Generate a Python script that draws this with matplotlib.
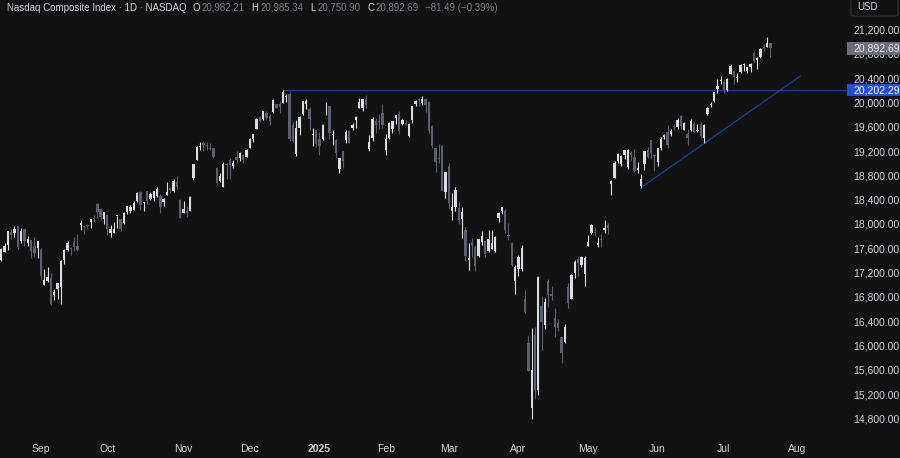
import matplotlib.pyplot as plt
import matplotlib.patches as patches
import numpy as np
import pandas as pd

# trading calendar: Aug 15 2024 .. Jul 22 2025 (NASDAQ holidays removed)
holidays = ['2024-09-02', '2024-11-28', '2024-12-25', '2025-01-01', '2025-01-09',
            '2025-01-20', '2025-02-17', '2025-04-18', '2025-05-26', '2025-06-19',
            '2025-07-04']
dates = pd.bdate_range('2024-08-15', '2025-07-22', freq='C', holidays=holidays)

opens = [
    # Aug
    17415, 17541, 17648, 17870, 17855, 17962, 17719, 17924, 17683, 17735, 17634, 17611,
    # Sep
    17578, 17001, 17061, 17108, 16833, 16930, 16961, 17402, 17580, 17602, 17710, 17640,
    17986, 17971, 17978, 18040, 18094, 18334, 18247, 18077,
    # Oct
    18147, 17852, 17849, 18125, 18074, 18020, 18197, 18219, 18237, 18373, 18521, 18338,
    18539, 18403, 18435, 18453, 18460, 18370, 18481, 18600, 18543, 18689, 18392,
    # Nov
    18180, 18220, 18217, 18764, 19050, 19274, 19325, 19298, 19250, 19242, 18920, 18700,
    18612, 18987, 19049, 18952, 19102, 19080, 19139, 19110,
    # Dec
    19250, 19399, 19569, 19756, 19726, 19819, 19774, 19835, 19969, 19980, 19997, 20084,
    20142, 19627, 19147, 19573, 19808, 19977, 19891, 19462, 19540,
    # Jan
    19403, 19395, 19851, 19938, 19469, 19376, 18903, 19202, 19374, 19538, 19579, 19709,
    19906, 19906, 20063, 19234, 19418, 19693, 19686, 19832,
    # Feb
    19215, 19407, 19561, 19747, 19802, 19653, 19645, 19446, 19706, 19966, 20053, 19997,
    20053, 20014, 19606, 19247, 19086, 19278, 18527,
    # Mar
    18960, 18211, 18285, 18265, 18076, 17909, 17403, 17701, 17625, 17479, 17707, 17717,
    17558, 17592, 17562, 18097, 18206, 18215, 17824, 17695, 17064,
    # Apr
    17263, 17262, 16770, 16040, 14980, 16180, 15262, 16650, 16341, 17060, 16845, 16460,
    16371, 16148, 16052, 16957, 16771, 17188, 17422, 17318, 17172,
    # May
    17637, 17857, 17874, 17651, 17744, 17909, 17977, 18650, 18760, 19038, 18994, 19137,
    18930, 19169, 19104, 18881, 18620, 18990, 19214, 19380, 19136,
    # Jun
    19020, 19255, 19430, 19510, 19480, 19600, 19600, 19780, 19550, 19480, 19540, 19650,
    19530, 19640, 19410, 19815, 19960, 20030, 20220, 20350,
    # Jul
    20340, 20200, 20470, 20510, 20410, 20500, 20620, 20520, 20580, 20810, 20700, 20750,
    20920, 20920, 20982.21,
]
highs = [
    17602, 17683, 17877, 17918, 17967, 17968, 17929, 17925, 17799, 17740, 17790, 17715,
    17597, 17258, 17296, 17200, 16925, 17026, 17410, 17589, 17712, 17617, 17793, 17838,
    18065, 17986, 18002, 18089, 18142, 18342, 18255, 18192,
    18163, 17979, 18027, 18137, 18086, 18197, 18298, 18318, 18385, 18532, 18547, 18369,
    18547, 18519, 18543, 18605, 18487, 18430, 18691, 18612, 18734, 18785, 18417,
    18384, 18288, 18456, 18991, 19288, 19346, 19366, 19354, 19337, 19258, 18935, 18838,
    19015, 18996, 19081, 19049, 19193, 19181, 19152, 19232,
    19410, 19485, 19744, 19782, 19863, 19855, 19808, 20055, 19981, 20017, 20204, 20131,
    20168, 19671, 19711, 19779, 20031, 20057, 19928, 19571, 19541,
    19517, 19638, 20007, 19939, 19546, 19391, 19093, 19209, 19548, 19553, 19657, 19770,
    20068, 20054, 20118, 19472, 19757, 19741, 19803, 19969,
    19476, 19685, 19696, 19792, 19862, 19732, 19716, 19669, 19948, 20046, 20070, 20110,
    20066, 20017, 19622, 19248, 19312, 19297, 18848,
    19000, 18508, 18603, 18377, 18280, 17955, 17680, 17769, 17661, 17759, 17885, 17721,
    17908, 17899, 17799, 18198, 18282, 18253, 18021, 17705, 17324,
    17487, 17661, 16910, 16180, 16292, 16302, 17151, 16811, 16776, 17100, 16986, 16614,
    16436, 16148, 16358, 17027, 17183, 17403, 17470, 17479, 17470,
    17815, 18000, 17951, 17778, 17829, 18072, 18010, 18719, 19036, 19176, 19130, 19212,
    19240, 19196, 19235, 19021, 18830, 19205, 19259, 19381, 19159,
    19250, 19433, 19478, 19632, 19560, 19650, 19736, 19800, 19680, 19560, 19730, 19700,
    19650, 19670, 19640, 19930, 20000, 20170, 20390, 20440,
    20390, 20395, 20624, 20530, 20490, 20630, 20655, 20590, 20645, 20840, 20750, 20890,
    20960, 21077, 20985.34,
]
lows = [
    17394, 17541, 17576, 17756, 17782, 17594, 17690, 17645, 17635, 17444, 17460, 17445,
    17086, 16991, 17047, 16668, 16753, 16763, 16688, 17335, 17563, 17494, 17555, 17548,
    17897, 17838, 17912, 17938, 18031, 18099, 18071, 18008,
    17812, 17792, 17847, 17933, 17892, 17999, 18169, 18187, 18237, 18369, 18236, 18218,
    18333, 18396, 18376, 18438, 18181, 18301, 18470, 18508, 18522, 18568, 18092,
    18174, 18117, 18217, 18728, 19050, 19213, 19193, 19211, 19211, 19090, 18646, 18684,
    18608, 18732, 18745, 18928, 18998, 19041, 19002, 19107,
    19244, 19356, 19564, 19685, 19713, 19706, 19629, 19832, 19902, 19832, 19988, 20013,
    19358, 19351, 19114, 19466, 19796, 19887, 19540, 19283, 19274,
    19134, 19379, 19785, 19405, 19304, 19084, 18831, 18924, 19333, 19335, 19552, 19587,
    19906, 19867, 19914, 19204, 19363, 19505, 19560, 19581,
    19141, 19397, 19501, 19646, 19485, 19627, 19623, 19434, 19668, 19945, 19944, 19957,
    19848, 19495, 19245, 18851, 18996, 18541, 18431,
    18253, 18070, 18206, 18004, 17768, 17389, 17238, 17457, 17233, 17458, 17658, 17464,
    17545, 17591, 17533, 18041, 18172, 17853, 17734, 17306, 16854,
    17152, 17234, 16528, 15575, 14784, 15126, 15194, 15922, 16279, 16640, 16751, 16144,
    16232, 15709, 16044, 16614, 16768, 17113, 17141, 17285, 16974,
    17636, 17836, 17796, 17627, 17621, 17850, 17832, 18480, 18752, 19001, 18956, 19071,
    18900, 19042, 18856, 18843, 18600, 18883, 19086, 19070, 18880,
    18960, 19220, 19392, 19250, 19440, 19550, 19570, 19570, 19540, 19300, 19530, 19500,
    19510, 19420, 19325, 19790, 19920, 20010, 20150, 20300,
    20150, 20180, 20460, 20300, 20340, 20480, 20520, 20480, 20500, 20650, 20550, 20730,
    20850, 20910, 20750.90,
]
closes = [
    17594.50, 17631.72, 17876.77, 17816.94, 17918.99, 17619.35, 17877.79, 17725.77,
    17754.82, 17556.03, 17516.43, 17713.62,
    17136.30, 17084.30, 17127.66, 16690.83, 16884.60, 17025.88, 17395.53, 17569.68,
    17683.98, 17592.13, 17628.06, 17573.30, 18013.98, 17948.32, 17974.27, 18074.52,
    18082.21, 18190.29, 18119.59, 18189.17,
    17910.36, 17925.12, 17918.48, 18137.85, 17923.90, 18182.92, 18291.62, 18282.05,
    18342.94, 18502.69, 18315.59, 18367.08, 18373.61, 18489.55, 18540.01, 18573.13,
    18276.65, 18415.49, 18518.61, 18567.19, 18712.75, 18607.93, 18095.15,
    18239.92, 18179.98, 18439.17, 18983.47, 19269.46, 19286.78, 19298.76, 19281.40,
    19230.74, 19107.65, 18680.12, 18791.81, 18987.47, 18966.14, 18972.42, 19003.65,
    19054.84, 19174.30, 19060.48, 19218.17,
    19403.95, 19480.91, 19735.12, 19700.26, 19859.77, 19736.69, 19687.24, 20034.89,
    19902.84, 19926.72, 20173.89, 20109.06, 19392.69, 19372.77, 19572.60, 19764.89,
    20031.13, 20020.36, 19722.03, 19486.79, 19310.79,
    19280.79, 19621.68, 19864.98, 19489.68, 19478.88, 19161.63, 19088.10, 19044.39,
    19511.23, 19338.29, 19630.20, 19756.78, 20009.34, 20053.68, 19954.30, 19341.83,
    19733.59, 19632.32, 19681.75, 19627.44,
    19391.96, 19654.02, 19692.33, 19791.99, 19523.40, 19714.27, 19643.86, 19649.95,
    19945.64, 20026.77, 20041.26, 20056.25, 19962.36, 19524.01, 19286.93, 19026.39,
    19075.26, 18544.42, 18847.28,
    18350.19, 18285.16, 18552.73, 18069.26, 18196.22, 17468.32, 17436.10, 17648.45,
    17303.01, 17754.09, 17808.66, 17504.12, 17750.79, 17691.63, 17784.05, 18188.59,
    18271.86, 17899.02, 17804.03, 17322.99, 17299.29,
    17449.89, 17601.05, 16550.61, 15587.79, 15603.26, 15267.91, 17124.97, 16387.31,
    16724.46, 16831.48, 16823.17, 16307.16, 16286.45, 15870.90, 16300.42, 16708.05,
    17166.04, 17382.94, 17366.13, 17461.32, 17446.34,
    17710.74, 17977.73, 17844.24, 17689.66, 17738.16, 17928.14, 17928.92, 18708.34,
    19010.08, 19146.81, 19112.32, 19211.10, 19215.46, 19142.71, 18872.64, 18925.74,
    18737.21, 19199.16, 19100.94, 19175.87, 19113.77,
    19242.61, 19398.96, 19460.49, 19298.45, 19529.95, 19591.24, 19714.99, 19615.88,
    19662.48, 19406.83, 19701.21, 19521.09, 19546.27, 19447.41, 19630.97, 19912.53,
    19973.55, 20167.91, 20273.46, 20369.73,
    20202.89, 20393.13, 20601.10, 20412.52, 20418.46, 20611.34, 20630.67, 20585.53,
    20640.33, 20677.80, 20730.49, 20885.65, 20895.66, 20974.18, 20892.69,
]

month_labels = ['Sep', 'Oct', 'Nov', 'Dec', '2025', 'Feb', 'Mar', 'Apr', 'May', 'Jun', 'Jul', 'Aug']
price_ticks = list(range(14800, 21201, 400))

level = 20202.29
level_start = '2024-12-16'
trend_dates = ['2025-05-23', '2025-06-23']
trend_prices = [18600, 19325]

title = 'Nasdaq Composite Index \u00b7 1D \u00b7 NASDAQ'
last_change = '\u221281.49 (\u22120.39%)'

# ----------------------------------------------------------------
bg = '#121212'
up_col = '#dcdee4'
dn_col = '#5d606b'
txt = '#d1d4dc'
val_col = '#7c7f88'
line_col = '#213f8f'
W, H = 900, 458

plt.rcParams['font.family'] = ['Liberation Sans', 'DejaVu Sans']

o = np.array(opens, float)
h = np.array(highs, float)
l = np.array(lows, float)
c = np.array(closes, float)
n = len(c)
idx = np.arange(n)

fig = plt.figure(figsize=(9, 4.58), dpi=100, facecolor=bg)
ax = fig.add_axes([0, 26 / H, 845 / W, 432 / H])
ax.set_facecolor(bg)

cols = np.where(c >= o, up_col, dn_col)
ax.vlines(idx, l, h, colors=cols, linewidth=0.8, zorder=2)
body_lo = np.minimum(o, c)
body_h = np.maximum(np.abs(c - o), 15)
ax.bar(idx, body_h, bottom=body_lo, width=0.7, color=cols, linewidth=0, zorder=3)

# resistance level from the December high
i0 = dates.get_loc(pd.Timestamp(level_start))
ax.plot([i0, 255.2], [level, level], color=line_col, lw=0.9, clip_on=False, zorder=1)

# rising trend line from the May / June lows
t0 = dates.get_loc(pd.Timestamp(trend_dates[0]))
t1 = dates.get_loc(pd.Timestamp(trend_dates[1]))
slope = (trend_prices[1] - trend_prices[0]) / (t1 - t0)
t_end = 241
ax.plot([t0, t_end], [trend_prices[0], trend_prices[0] + slope * (t_end - t0)],
        color=line_col, lw=0.9, zorder=1)

ax.set_xlim(-0.36, 254.5)
ax.set_ylim(14578, 21685)

# month ticks at first trading day of each month (Aug is in the future)
month_pos = []
for m in pd.period_range('2024-09', '2025-07', freq='M'):
    month_pos.append(int(np.argmax(dates.to_period('M') == m)))
month_pos.append(n + len(pd.bdate_range('2025-07-23', '2025-07-31')))
ax.set_xticks(month_pos)
ax.set_xticklabels(month_labels)
ax.set_yticks(price_ticks)
ax.set_yticklabels([f'{p:,.2f}' for p in price_ticks])
ax.yaxis.tick_right()
ax.tick_params(axis='x', length=0, pad=9, labelsize=7.5, labelcolor=txt)
ax.tick_params(axis='y', length=0, pad=6, labelsize=7.5, labelcolor=txt)
for lab in ax.get_xticklabels():
    if lab.get_text() == '2025':
        lab.set_fontweight('bold')
for s in ax.spines.values():
    s.set_visible(False)


def fx(px):
    return px / W


def fy(py):
    return 1 - py / H


# price labels on the axis
last_y = 29.5 + (21200 - c[-1]) * 0.060781
lvl_y = 29.5 + (21200 - level) * 0.060781
fig.add_artist(patches.Rectangle((fx(847), fy(last_y + 6.5)), fx(53), 13 / H,
                                 transform=fig.transFigure, facecolor='#6a6d76',
                                 edgecolor='none', zorder=5))
fig.text(fx(853), fy(last_y), f'{c[-1]:,.2f}', color='#f0f1f4', fontsize=7.5,
         va='center', ha='left', zorder=6)
fig.add_artist(patches.Rectangle((fx(847), fy(lvl_y + 6)), fx(53), 12 / H,
                                 transform=fig.transFigure, facecolor='#1f4fd6',
                                 edgecolor='none', zorder=5))
fig.text(fx(853), fy(lvl_y), f'{level:,.2f}', color='white', fontsize=7.5,
         va='center', ha='left', zorder=6)

# currency button
fig.add_artist(patches.FancyBboxPatch((fx(851), fy(16)), fx(47), 18 / H,
                                      boxstyle='round,pad=0,rounding_size=0.004',
                                      transform=fig.transFigure, facecolor='none',
                                      edgecolor='#2f323b', lw=0.8, zorder=5))
fig.text(fx(857), fy(7), 'USD', color=txt, fontsize=7, va='center', ha='left')

# header, laid out piece after piece
renderer = fig.canvas.get_renderer()
pieces = [(title, txt, 6), ('O', txt, 1.5), (f'{o[-1]:,.2f}', val_col, 7),
          ('H', txt, 1.5), (f'{h[-1]:,.2f}', val_col, 7),
          ('L', txt, 1.5), (f'{l[-1]:,.2f}', val_col, 7),
          ('C', txt, 1.5), (f'{c[-1]:,.2f}', val_col, 6),
          (last_change, val_col, 0)]
xpos = 7
for s, col, gap in pieces:
    t = fig.text(fx(xpos), fy(8), s, color=col, fontsize=7, va='center', ha='left')
    xpos = t.get_window_extent(renderer).x1 + gap

fig.savefig('out.png', dpi=100, facecolor=bg)
